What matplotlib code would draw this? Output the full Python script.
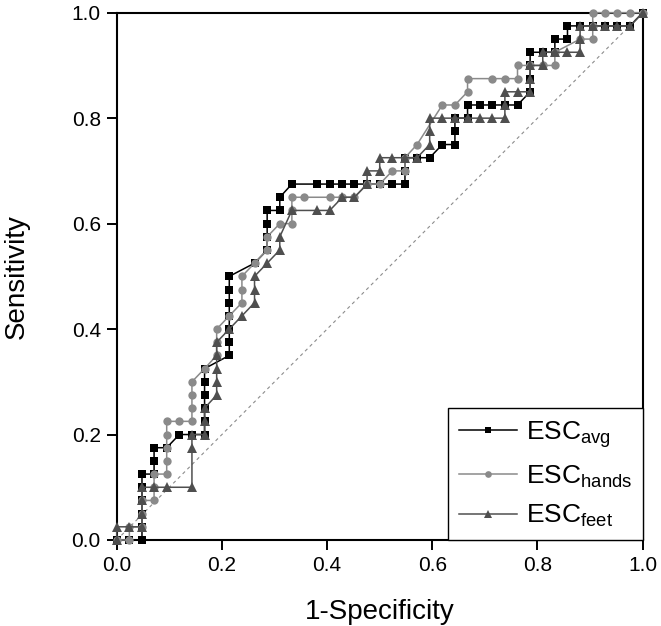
import matplotlib
matplotlib.use("Agg")
import matplotlib.pyplot as plt

plt.rcParams['font.family'] = ['Liberation Sans', 'DejaVu Sans']
plt.rcParams['mathtext.fontset'] = 'custom'
plt.rcParams['mathtext.rm'] = 'Liberation Sans'

# ESC_avg (1-specificity, sensitivity)
avg_fpr = [0.000, 0.024, 0.048, 0.048, 0.048, 0.048, 0.048, 0.048, 0.071, 0.071, 0.071, 0.095,
           0.119, 0.143, 0.167, 0.167, 0.167, 0.167, 0.167, 0.167, 0.214, 0.214, 0.214, 0.214,
           0.214, 0.214, 0.214, 0.262, 0.286, 0.286, 0.286, 0.286, 0.310, 0.310, 0.333, 0.381,
           0.405, 0.429, 0.452, 0.476, 0.500, 0.524, 0.548, 0.548, 0.548, 0.571, 0.595, 0.619,
           0.643, 0.643, 0.643, 0.667, 0.667, 0.690, 0.714, 0.738, 0.762, 0.786, 0.786, 0.786,
           0.786, 0.810, 0.833, 0.833, 0.857, 0.857, 0.881, 0.905, 0.929, 0.952, 0.976, 1.000]
avg_tpr = [0.000, 0.000, 0.000, 0.025, 0.050, 0.075, 0.100, 0.125, 0.125, 0.150, 0.175, 0.175,
           0.200, 0.200, 0.200, 0.225, 0.250, 0.275, 0.300, 0.325, 0.350, 0.375, 0.400, 0.425,
           0.450, 0.475, 0.500, 0.525, 0.550, 0.575, 0.600, 0.625, 0.625, 0.650, 0.675, 0.675,
           0.675, 0.675, 0.675, 0.675, 0.675, 0.675, 0.675, 0.700, 0.725, 0.725, 0.725, 0.750,
           0.750, 0.775, 0.800, 0.800, 0.825, 0.825, 0.825, 0.825, 0.825, 0.850, 0.875, 0.900,
           0.925, 0.925, 0.925, 0.950, 0.950, 0.975, 0.975, 0.975, 0.975, 0.975, 0.975, 1.000]

# ESC_hands
hands_fpr = [0.000, 0.024, 0.024, 0.048, 0.048, 0.048, 0.071, 0.071, 0.071, 0.095, 0.095, 0.095,
             0.095, 0.095, 0.119, 0.143, 0.143, 0.143, 0.143, 0.167, 0.190, 0.190, 0.190, 0.214,
             0.238, 0.238, 0.238, 0.262, 0.286, 0.286, 0.310, 0.333, 0.333, 0.333, 0.357, 0.405,
             0.429, 0.452, 0.476, 0.500, 0.524, 0.548, 0.548, 0.571, 0.619, 0.643, 0.667, 0.667,
             0.714, 0.738, 0.762, 0.762, 0.786, 0.810, 0.833, 0.833, 0.881, 0.905, 0.905, 0.905,
             0.929, 0.952, 0.976, 1.000]
hands_tpr = [0.000, 0.000, 0.025, 0.025, 0.050, 0.075, 0.075, 0.100, 0.125, 0.125, 0.150, 0.175,
             0.200, 0.225, 0.225, 0.225, 0.250, 0.275, 0.300, 0.325, 0.350, 0.375, 0.400, 0.425,
             0.450, 0.475, 0.500, 0.525, 0.550, 0.575, 0.600, 0.600, 0.625, 0.650, 0.650, 0.650,
             0.650, 0.650, 0.675, 0.675, 0.700, 0.700, 0.725, 0.750, 0.825, 0.825, 0.850, 0.875,
             0.875, 0.875, 0.875, 0.900, 0.900, 0.900, 0.900, 0.925, 0.950, 0.950, 0.975, 1.000,
             1.000, 1.000, 1.000, 1.000]

# ESC_feet
feet_fpr = [0.000, 0.000, 0.024, 0.048, 0.048, 0.048, 0.048, 0.071, 0.095, 0.143, 0.143, 0.143,
            0.167, 0.167, 0.167, 0.190, 0.190, 0.190, 0.190, 0.190, 0.214, 0.238, 0.262, 0.262,
            0.262, 0.286, 0.310, 0.310, 0.333, 0.381, 0.405, 0.429, 0.452, 0.476, 0.476, 0.500,
            0.500, 0.524, 0.548, 0.571, 0.595, 0.595, 0.595, 0.619, 0.643, 0.667, 0.690, 0.714,
            0.738, 0.738, 0.738, 0.762, 0.786, 0.786, 0.786, 0.810, 0.810, 0.833, 0.857, 0.881,
            0.881, 0.881, 0.905, 0.929, 0.952, 0.976, 1.000]
feet_tpr = [0.000, 0.025, 0.025, 0.025, 0.050, 0.075, 0.100, 0.100, 0.100, 0.100, 0.175, 0.200,
            0.200, 0.225, 0.250, 0.275, 0.300, 0.325, 0.350, 0.375, 0.400, 0.425, 0.450, 0.475,
            0.500, 0.525, 0.550, 0.575, 0.625, 0.625, 0.625, 0.650, 0.650, 0.675, 0.700, 0.700,
            0.725, 0.725, 0.725, 0.725, 0.750, 0.775, 0.800, 0.800, 0.800, 0.800, 0.800, 0.800,
            0.800, 0.825, 0.850, 0.850, 0.850, 0.875, 0.900, 0.900, 0.925, 0.925, 0.925, 0.925,
            0.950, 0.975, 0.975, 0.975, 0.975, 0.975, 1.000]

ticks = [0.0, 0.2, 0.4, 0.6, 0.8, 1.0]
tick_labels = ['0.0', '0.2', '0.4', '0.6', '0.8', '1.0']

fig = plt.figure(figsize=(6.61, 6.26), dpi=100)
ax = fig.add_axes([0.1766, 0.1374, 0.7957, 0.8423])

ax.plot([0, 1], [0, 1], linestyle=(0, (3, 3)), color='#8c8c8c', linewidth=0.8, zorder=1)

ax.plot(avg_fpr, avg_tpr, color='#000000', linewidth=1.1, marker='s', markersize=5.2,
        markeredgewidth=0, label=r'ESC$_\mathregular{avg}$', zorder=3, clip_on=False)
ax.plot(hands_fpr, hands_tpr, color='#8a8a8a', linewidth=1.1, marker='o', markersize=6.0,
        markeredgewidth=0, label=r'ESC$_\mathregular{hands}$', zorder=4, clip_on=False)
ax.plot(feet_fpr, feet_tpr, color='#4f4f4f', linewidth=1.1, marker='^', markersize=6.6,
        markeredgewidth=0, label=r'ESC$_\mathregular{feet}$', zorder=5, clip_on=False)

ax.set_xlim(0, 1)
ax.set_ylim(0, 1)
ax.set_xticks(ticks)
ax.set_xticklabels(tick_labels)
ax.set_yticks(ticks)
ax.set_yticklabels(tick_labels)
ax.tick_params(direction='out', length=7.5, width=1.4, labelsize=15, pad=4)
for s in ax.spines.values():
    s.set_linewidth(1.5)

ax.set_xlabel('1-Specificity', fontsize=20, labelpad=17)
ax.set_ylabel('Sensitivity', fontsize=20, labelpad=30)

leg = ax.legend(loc='lower right', borderaxespad=0, fontsize=19, handlelength=2.2,
                handletextpad=0.35, labelspacing=0.5, numpoints=1, fancybox=False,
                framealpha=1, edgecolor='black', borderpad=0.4, markerscale=0.8)
leg.get_frame().set_linewidth(1.0)
leg.set_zorder(10)

fig.savefig('out.png', dpi=100)
